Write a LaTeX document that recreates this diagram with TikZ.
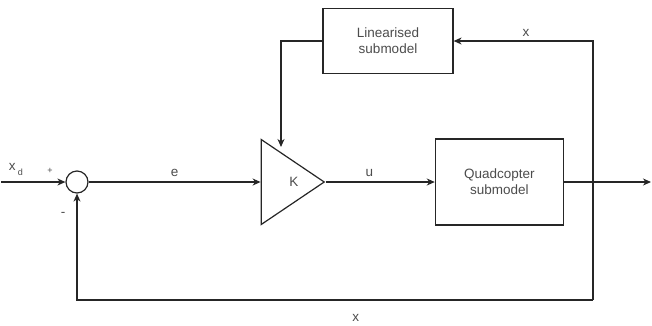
\documentclass[tikz,border=0pt]{standalone}
\usepackage{fontspec}
\setmainfont{Liberation Sans}
\usetikzlibrary{positioning, arrows.meta, shapes.geometric}

\begin{document}
\begin{tikzpicture}[x=1pt,y=-1pt,
    >={Stealth[length=8pt,width=7pt,inset=2.5pt]},
    every node/.style={font=\fontsize{13.5}{16}\selectfont, text=black!70},
    wire/.style={draw=black!85, line width=1.2pt},
    block/.style={wire, align=center, inner sep=0pt},
    junction/.style={wire, circle, minimum size=22pt, inner sep=0pt},
    gainbox/.style={wire, isosceles triangle, isosceles triangle stretches,
      minimum width=85pt, minimum height=63pt, inner sep=0pt}]
       \useasboundingbox (0,0) rectangle (652,325);

       \node[junction] (sum) at (77,182) {};
       \node[gainbox, label={[xshift=10pt]center:K}] (gain) [right=172pt of sum] {};
       \node[block, minimum width=128pt, minimum height=86pt] (quad) [right=109pt of gain] {Quadcopter\\submodel};
       \node[block, minimum width=130pt, minimum height=65pt] (lin) at (388,41) {Linearised\\submodel};

       \coordinate (xin) at (1,182);
       \coordinate (yout) at (651,182);
       \coordinate (tap) at (593,300);
       \coordinate (kin) at (281,147);

       \path[->, every edge/.append style={wire}]
       (xin) edge (sum)
       (sum) edge node[above=1pt] {e} (gain)
       (gain) edge node[above=1pt, pos=0.4] {u} (quad)
       (quad) edge (yout);

       \draw[->, wire] (lin.west) -| (kin);
       \draw[->, wire] (tap) |- node[above=1pt, pos=0.74] {x} (lin.east);
       \draw[->, wire] (tap) -| node[below=10pt, pos=0.23] {x} (sum);

       \node (xdlab) at (16,169) {x\,\raisebox{-0.7ex}{\small d}};
       \node[font=\small] (plus) at (50,171) {+};
       \node (minus) at (63,214) {-};
    \end{tikzpicture}
\end{document}
